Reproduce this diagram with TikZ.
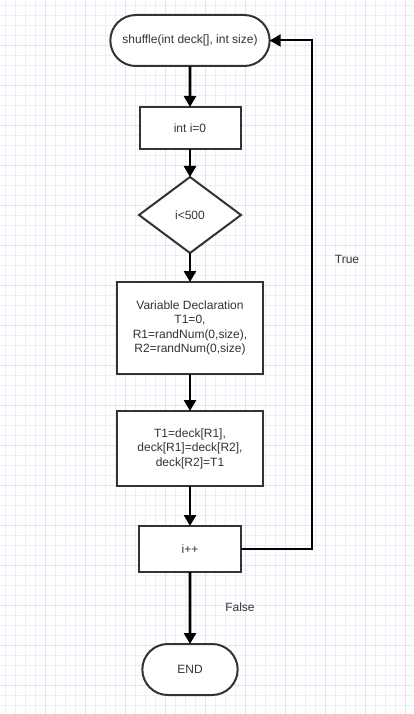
\documentclass[tikz,border=0pt]{standalone}
\usepackage{fontspec}
\setmainfont{Liberation Sans}
\usepackage{tikz}
\usetikzlibrary{shapes.geometric,shapes.misc,arrows.meta,positioning}

\definecolor{ink}{HTML}{333333}
\definecolor{gridline}{HTML}{EEEEF8}
\definecolor{gridmajor}{HTML}{E3E3F2}

\begin{document}
\begin{tikzpicture}[x=1pt, y=-1pt,
		every node/.style={font=\fontsize{12}{14.5}\selectfont, text=ink},
		box/.style={draw=ink, line width=2pt, fill=white, outer sep=0pt, align=center},
		terminal/.style={box, rounded rectangle},
		decision/.style={box, diamond, inner sep=0pt},
		flow/.style={-{Triangle[length=11pt,width=12pt]}, line width=2.6pt},
		back/.style={-{Triangle[length=11pt,width=12pt]}, line width=2pt}]
			\useasboundingbox (0,0) rectangle (413,714);
			\fill[white] (0,0) rectangle (413,714);
			% grid paper
			\foreach \g in {5,15,...,705} \draw[gridline, line width=0.8pt] (0,\g) -- (413,\g);
			\foreach \g in {5,15,...,410} \draw[gridline, line width=0.8pt] (\g,0) -- (\g,714);
			\foreach \g in {45,85,...,705} \draw[gridmajor, line width=0.9pt] (0,\g) -- (413,\g);
			\foreach \g in {45,85,...,410} \draw[gridmajor, line width=0.9pt] (\g,0) -- (\g,714);
			
			\node[terminal, minimum width=166pt, minimum height=51pt] (start) at (190,40.5) {shuffle(int deck[], int size)};
			\node[box, minimum width=101pt, minimum height=42pt, below=41pt of start] (init) {int i=0};
			\node[decision, minimum width=102pt, minimum height=76pt, below=28pt of init] (cond) {i\textless500};
			\node[box, minimum width=146pt, minimum height=92pt, below=29pt of cond] (decl) {Variable Declaration\\T1=0,\\R1=randNum(0,size),\\R2=randNum(0,size)};
			\node[box, minimum width=146pt, minimum height=75pt, below=37pt of decl] (swap) {T1=deck[R1],\\deck[R1]=deck[R2],\\deck[R2]=T1};
			\node[box, minimum width=102pt, minimum height=46pt, below=40pt of swap] (incr) {i++};
			\node[terminal, minimum width=102pt, minimum height=51pt, below=72pt of incr] (stop) {END};
			
			\coordinate[right=71pt of incr.east] (loop);
			
			\draw[flow] (start) -- (init);
			\draw[flow] (init) -- (cond);
			\draw[flow] (cond) -- (decl);
			\draw[flow] (decl) -- (swap);
			\draw[flow] (swap) -- (incr);
			\draw[flow] (incr) -- (stop);
			\draw[back] (incr.east) -- (loop) |- (start.east);
			
			\node (true) at (347,259) {True};
			\node (false) at (240,607) {False};
		\end{tikzpicture}
\end{document}
